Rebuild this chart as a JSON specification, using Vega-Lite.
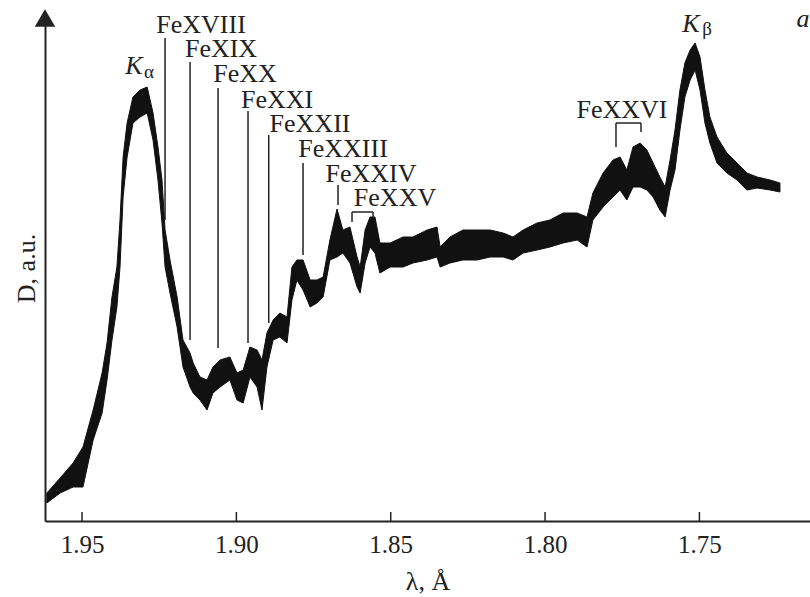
{
  "$schema": "https://vega.github.io/schema/vega-lite/v6.json",
  "width": 765,
  "height": 506,
  "autosize": {"type": "none"},
  "padding": {"left": 45, "top": 15, "right": 0, "bottom": 76},
  "background": "white",
  "config": {
    "view": {"stroke": null},
    "font": "Liberation Serif",
    "axis": {"labelFont": "Liberation Serif", "titleFont": "Liberation Serif", "labelColor": "#222", "titleColor": "#222", "domainColor": "#222", "tickColor": "#222", "grid": false}
  },
  "datasets": {
    "spectrum": [
      {"lam": 1.9614, "d": 18, "d2": 28},
      {"lam": 1.9571, "d": 28, "d2": 43},
      {"lam": 1.9529, "d": 34, "d2": 58},
      {"lam": 1.9497, "d": 34, "d2": 74},
      {"lam": 1.9464, "d": 81, "d2": 111},
      {"lam": 1.9435, "d": 108, "d2": 148},
      {"lam": 1.9419, "d": 141, "d2": 178},
      {"lam": 1.9403, "d": 181, "d2": 224},
      {"lam": 1.9387, "d": 214, "d2": 254},
      {"lam": 1.9377, "d": 254, "d2": 301},
      {"lam": 1.9367, "d": 324, "d2": 364},
      {"lam": 1.9354, "d": 364, "d2": 398},
      {"lam": 1.9335, "d": 398, "d2": 424},
      {"lam": 1.9312, "d": 404, "d2": 431},
      {"lam": 1.9289, "d": 408, "d2": 434},
      {"lam": 1.9270, "d": 381, "d2": 408},
      {"lam": 1.9254, "d": 341, "d2": 374},
      {"lam": 1.9241, "d": 298, "d2": 341},
      {"lam": 1.9231, "d": 254, "d2": 291},
      {"lam": 1.9215, "d": 228, "d2": 261},
      {"lam": 1.9192, "d": 194, "d2": 224},
      {"lam": 1.9173, "d": 154, "d2": 181},
      {"lam": 1.9150, "d": 134, "d2": 168},
      {"lam": 1.9140, "d": 128, "d2": 158},
      {"lam": 1.9118, "d": 121, "d2": 144},
      {"lam": 1.9095, "d": 111, "d2": 141},
      {"lam": 1.9076, "d": 128, "d2": 154},
      {"lam": 1.9053, "d": 134, "d2": 161},
      {"lam": 1.9021, "d": 141, "d2": 164},
      {"lam": 1.8998, "d": 121, "d2": 148},
      {"lam": 1.8978, "d": 118, "d2": 151},
      {"lam": 1.8956, "d": 144, "d2": 174},
      {"lam": 1.8933, "d": 134, "d2": 171},
      {"lam": 1.8917, "d": 111, "d2": 161},
      {"lam": 1.8901, "d": 154, "d2": 188},
      {"lam": 1.8881, "d": 181, "d2": 201},
      {"lam": 1.8859, "d": 184, "d2": 208},
      {"lam": 1.8836, "d": 178, "d2": 204},
      {"lam": 1.8820, "d": 221, "d2": 254},
      {"lam": 1.8804, "d": 241, "d2": 261},
      {"lam": 1.8784, "d": 231, "d2": 261},
      {"lam": 1.8761, "d": 214, "d2": 241},
      {"lam": 1.8739, "d": 218, "d2": 241},
      {"lam": 1.8719, "d": 224, "d2": 244},
      {"lam": 1.8697, "d": 261, "d2": 281},
      {"lam": 1.8674, "d": 264, "d2": 312},
      {"lam": 1.8655, "d": 268, "d2": 291},
      {"lam": 1.8632, "d": 258, "d2": 294},
      {"lam": 1.8609, "d": 234, "d2": 264},
      {"lam": 1.8599, "d": 228, "d2": 254},
      {"lam": 1.8583, "d": 258, "d2": 291},
      {"lam": 1.8567, "d": 274, "d2": 304},
      {"lam": 1.8551, "d": 268, "d2": 304},
      {"lam": 1.8535, "d": 248, "d2": 278},
      {"lam": 1.8502, "d": 254, "d2": 278},
      {"lam": 1.8460, "d": 254, "d2": 284},
      {"lam": 1.8428, "d": 258, "d2": 284},
      {"lam": 1.8382, "d": 261, "d2": 291},
      {"lam": 1.8350, "d": 264, "d2": 294},
      {"lam": 1.8340, "d": 254, "d2": 274},
      {"lam": 1.8308, "d": 258, "d2": 284},
      {"lam": 1.8266, "d": 261, "d2": 291},
      {"lam": 1.8220, "d": 261, "d2": 291},
      {"lam": 1.8178, "d": 264, "d2": 291},
      {"lam": 1.8136, "d": 264, "d2": 288},
      {"lam": 1.8104, "d": 261, "d2": 284},
      {"lam": 1.8071, "d": 268, "d2": 291},
      {"lam": 1.8026, "d": 271, "d2": 298},
      {"lam": 1.7984, "d": 274, "d2": 301},
      {"lam": 1.7942, "d": 278, "d2": 308},
      {"lam": 1.7896, "d": 281, "d2": 308},
      {"lam": 1.7864, "d": 274, "d2": 304},
      {"lam": 1.7845, "d": 301, "d2": 328},
      {"lam": 1.7812, "d": 314, "d2": 348},
      {"lam": 1.7780, "d": 324, "d2": 361},
      {"lam": 1.7757, "d": 331, "d2": 364},
      {"lam": 1.7735, "d": 321, "d2": 351},
      {"lam": 1.7715, "d": 334, "d2": 374},
      {"lam": 1.7692, "d": 334, "d2": 378},
      {"lam": 1.7670, "d": 331, "d2": 371},
      {"lam": 1.7650, "d": 324, "d2": 358},
      {"lam": 1.7628, "d": 311, "d2": 344},
      {"lam": 1.7611, "d": 304, "d2": 334},
      {"lam": 1.7595, "d": 331, "d2": 361},
      {"lam": 1.7579, "d": 351, "d2": 391},
      {"lam": 1.7563, "d": 391, "d2": 431},
      {"lam": 1.7547, "d": 424, "d2": 458},
      {"lam": 1.7530, "d": 441, "d2": 471},
      {"lam": 1.7514, "d": 451, "d2": 478},
      {"lam": 1.7498, "d": 431, "d2": 464},
      {"lam": 1.7482, "d": 398, "d2": 431},
      {"lam": 1.7466, "d": 378, "d2": 404},
      {"lam": 1.7443, "d": 358, "d2": 384},
      {"lam": 1.7411, "d": 348, "d2": 368},
      {"lam": 1.7378, "d": 341, "d2": 358},
      {"lam": 1.7346, "d": 331, "d2": 348},
      {"lam": 1.7313, "d": 333, "d2": 344},
      {"lam": 1.7271, "d": 331, "d2": 341},
      {"lam": 1.7239, "d": 329, "d2": 338}
    ],
    "segments": [
      {"lam": 1.92311, "lam2": 1.92311, "d": 483, "d2": 301},
      {"lam": 1.91501, "lam2": 1.91501, "d": 459, "d2": 181},
      {"lam": 1.90594, "lam2": 1.90594, "d": 433, "d2": 173},
      {"lam": 1.89623, "lam2": 1.89623, "d": 410, "d2": 178},
      {"lam": 1.88952, "lam2": 1.88952, "d": 386, "d2": 198},
      {"lam": 1.87841, "lam2": 1.87841, "d": 358, "d2": 266},
      {"lam": 1.86707, "lam2": 1.86707, "d": 336, "d2": 316},
      {"lam": 1.86254, "lam2": 1.85573, "d": 309, "d2": 309},
      {"lam": 1.86254, "lam2": 1.86254, "d": 309, "d2": 299},
      {"lam": 1.85573, "lam2": 1.85573, "d": 309, "d2": 303},
      {"lam": 1.77702, "lam2": 1.76892, "d": 398, "d2": 398},
      {"lam": 1.77702, "lam2": 1.77702, "d": 398, "d2": 374},
      {"lam": 1.76892, "lam2": 1.76892, "d": 398, "d2": 389}
    ],
    "ticks": [
      {"lam": 1.95, "d": 0, "d2": 9},
      {"lam": 1.90, "d": 0, "d2": 9},
      {"lam": 1.85, "d": 0, "d2": 9},
      {"lam": 1.80, "d": 0, "d2": 9},
      {"lam": 1.75, "d": 0, "d2": 9}
    ],
    "labels": [
      {"lam": 1.91145, "d": 488, "text": "FeXVIII"},
      {"lam": 1.90497, "d": 464, "text": "FeXIX"},
      {"lam": 1.89720, "d": 439, "text": "FeXX"},
      {"lam": 1.88683, "d": 413, "text": "FeXXI"},
      {"lam": 1.87614, "d": 389, "text": "FeXXII"},
      {"lam": 1.86545, "d": 364, "text": "FeXXIII"},
      {"lam": 1.85638, "d": 339, "text": "FeXXIV"},
      {"lam": 1.84860, "d": 315, "text": "FeXXV"},
      {"lam": 1.77507, "d": 403, "text": "FeXXVI"}
    ],
    "italic": [
      {"lam": 1.93316, "d": 447, "text": "K"},
      {"lam": 1.75272, "d": 489, "text": "K"},
      {"lam": 1.71644, "d": 494, "text": "a"}
    ],
    "subs": [
      {"lam": 1.92830, "d": 443, "text": "α"},
      {"lam": 1.74754, "d": 486, "text": "β"}
    ],
    "arrow": [
      {"lam": 1.962, "d": 503}
    ]
  },
  "encoding": {
    "x": {
      "field": "lam", "type": "quantitative",
      "scale": {"domain": [1.71417, 1.962], "reverse": true, "nice": false, "zero": false},
      "axis": {"title": "λ, Å", "values": [1.95, 1.9, 1.85, 1.8, 1.75], "format": ".2f", "ticks": false, "domainWidth": 2, "labelFontSize": 25, "labelPadding": 11, "titleFontSize": 26, "titleFontWeight": "normal", "titlePadding": 11, "labelFlush": false}
    },
    "y": {
      "field": "d", "type": "quantitative",
      "scale": {"domain": [0, 506], "nice": false, "zero": false},
      "axis": {"title": "D, a.u.", "ticks": false, "labels": false, "domainWidth": 2, "titleFontSize": 26, "titleFontWeight": "normal", "titlePadding": 6}
    }
  },
  "layer": [
    {
      "data": {"name": "spectrum"},
      "mark": {"type": "area", "color": "#111", "stroke": "#111", "strokeWidth": 1},
      "encoding": {"y2": {"field": "d2"}}
    },
    {
      "data": {"name": "segments"},
      "mark": {"type": "rule", "color": "#222", "strokeWidth": 1.5},
      "encoding": {"x2": {"field": "lam2"}, "y2": {"field": "d2"}}
    },
    {
      "data": {"name": "ticks"},
      "mark": {"type": "rule", "color": "#222", "strokeWidth": 1.5},
      "encoding": {"y2": {"field": "d2"}}
    },
    {
      "data": {"name": "labels"},
      "mark": {"type": "text", "font": "Liberation Serif", "fontSize": 26, "align": "center", "baseline": "alphabetic", "color": "#222"},
      "encoding": {"text": {"field": "text"}}
    },
    {
      "data": {"name": "italic"},
      "mark": {"type": "text", "font": "Liberation Serif", "fontSize": 26, "fontStyle": "italic", "align": "center", "baseline": "alphabetic", "color": "#222"},
      "encoding": {"text": {"field": "text"}}
    },
    {
      "data": {"name": "subs"},
      "mark": {"type": "text", "font": "Liberation Serif", "fontSize": 19, "align": "center", "baseline": "alphabetic", "color": "#222"},
      "encoding": {"text": {"field": "text"}}
    },
    {
      "data": {"name": "arrow"},
      "mark": {"type": "point", "shape": "triangle-up", "filled": true, "color": "#222", "size": 420, "opacity": 1},
      "encoding": {}
    }
  ]
}
